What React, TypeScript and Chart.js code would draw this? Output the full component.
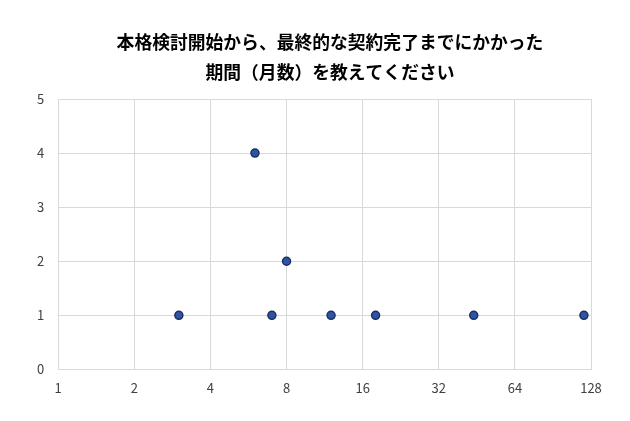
import React, { useEffect, useRef } from "react";
import { Chart, registerables } from "chart.js";

Chart.register(...registerables);

const titleLines = ["本格検討開始から、最終的な契約完了までにかかった", "期間（月数）を教えてください"];
const monthsX = [3, 6, 7, 8, 12, 18, 44, 120];
const countY = [1, 4, 1, 2, 1, 1, 1, 1];
const xTicks = [1, 2, 4, 8, 16, 32, 64, 128];
const yTicks = [0, 1, 2, 3, 4, 5];

const FONT = "'Noto Sans CJK JP', 'Noto Sans', sans-serif";

const titlePlugin = {
  id: "centeredTitle",
  afterDraw(chart: any) {
    const ctx = chart.ctx;
    ctx.save();
    ctx.fillStyle = "#000000";
    ctx.font = `bold 17.8px ${FONT}`;
    ctx.textAlign = "center";
    ctx.textBaseline = "middle";
    titleLines.forEach((line, i) => {
      ctx.fillText(line, 330, 42 + i * 30);
    });
    ctx.restore();
  },
};

export default function App() {
  const ref = useRef<HTMLCanvasElement | null>(null);
  useEffect(() => {
    if (!ref.current) return;
    const chart = new Chart(ref.current, {
      type: "scatter",
      data: {
        datasets: [
          {
            data: monthsX.map((x, i) => ({ x, y: countY[i] })),
            backgroundColor: "#2E54A3",
            borderColor: "#1B2F66",
            borderWidth: 1.5,
            pointRadius: 4,
          },
        ],
      },
      plugins: [titlePlugin],
      options: {
        animation: false,
        responsive: false,
        devicePixelRatio: 1,
        layout: { padding: { left: 23, right: 39, top: 99, bottom: 14 } },
        plugins: {
          legend: { display: false },
          tooltip: { enabled: false },
          title: { display: false },
        },
        scales: {
          x: {
            type: "logarithmic",
            min: 1,
            max: 128,
            afterBuildTicks: (axis: any) => {
              axis.ticks = xTicks.map((v) => ({ value: v }));
            },
            ticks: {
              color: "#404040",
              font: { family: FONT, size: 13 },
              padding: 11,
              maxRotation: 0,
              autoSkip: false,
              callback: (v: any) => String(v),
            },
            grid: { color: "#D9D9D9", drawTicks: false, lineWidth: 1 },
            border: { color: "#D9D9D9" },
          },
          y: {
            min: 0,
            max: 5,
            afterBuildTicks: (axis: any) => {
              axis.ticks = yTicks.map((v) => ({ value: v }));
            },
            ticks: {
              color: "#404040",
              font: { family: FONT, size: 13 },
              padding: 14,
            },
            grid: { color: "#D9D9D9", drawTicks: false, lineWidth: 1 },
            border: { color: "#D9D9D9" },
          },
        },
      },
    });
    return () => chart.destroy();
  }, []);
  return (
    <div style={{ position: "absolute", left: 0, top: 0, width: 630, height: 421, background: "#fff" }}>
      <canvas ref={ref} width={630} height={421} style={{ width: 630, height: 421 }} />
    </div>
  );
}
